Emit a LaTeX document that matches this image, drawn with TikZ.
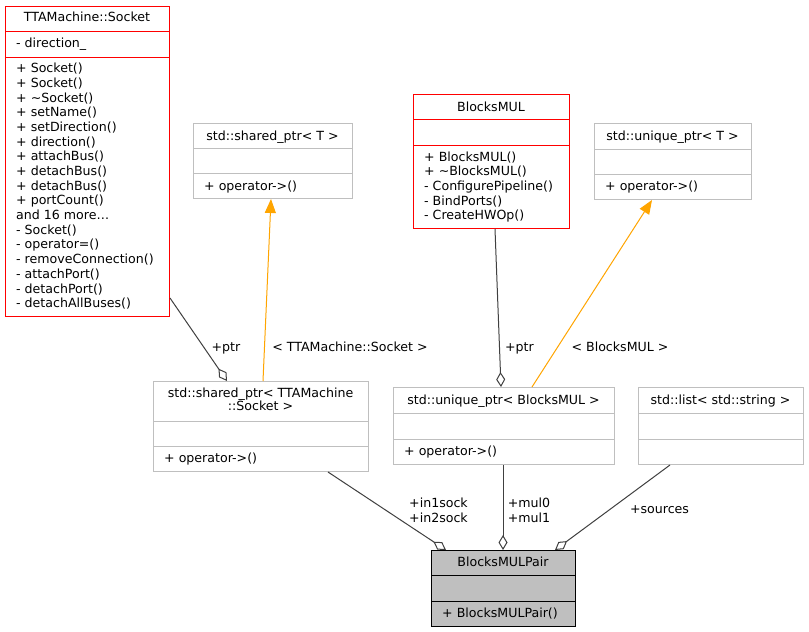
\documentclass[tikz,border=0pt]{standalone}
\usepackage{fontspec}
\setmainfont{DejaVu Sans}
\usetikzlibrary{arrows.meta,calc}
\definecolor{umlred}{HTML}{FF0000}
\definecolor{umlgray}{HTML}{BFBFBF}
\definecolor{edgegray}{HTML}{404040}
\definecolor{tmplorange}{HTML}{FFA500}
\newcommand\umlbox[8]{%
  \node[#8, minimum width=#4pt, minimum height=#5pt, anchor=north west] (#1) at (#2,#3) {};
  \draw[#7] ($(#1.north west)+(0,#6)$) -- ($(#1.north east)+(0,#6)$);
}
\begin{document}
\begin{tikzpicture}[x=1pt,y=-1pt,
  font=\fontsize{12.6}{14.7}\selectfont,
  redbox/.style={draw=umlred, line width=1pt, inner sep=0},
  graybox/.style={draw=umlgray, line width=1pt, inner sep=0},
  pairbox/.style={draw=black, fill=umlgray, line width=1pt, inner sep=0},
  redline/.style={draw=umlred, line width=1pt},
  grayline/.style={draw=umlgray, line width=1pt},
  blackline/.style={draw=black, line width=1pt},
  ttl/.style={inner sep=0, anchor=base},
  mem/.style={inner sep=0, anchor=base west},
  elbl/.style={inner sep=0, align=center},
  agg/.style={draw=edgegray, line width=1pt, -{Diamond[open, length=15pt, width=9pt]}},
  inst/.style={draw=tmplorange, line width=1pt, -{Triangle[length=14pt, width=11pt]}}
]
\fill[white] (0,0) rectangle (809,632);
\useasboundingbox (0,0) rectangle (809,632);

% TTAMachine::Socket
\umlbox{sock}{5}{6}{164}{310}{25}{redline}{redbox}
\draw[redline] ($(sock.north west)+(0,51)$) -- ($(sock.north east)+(0,51)$);
\node[ttl] (sockt) at (87,21.7) {TTAMachine::Socket};
\node[mem] (socka) at (16,47) {- direction\_};
\foreach \t [count=\i] in {{+ Socket()}, {+ Socket()}, {+ \textasciitilde Socket()}, {+ setName()}, {+ setDirection()}, {+ direction()}, {+ attachBus()}, {+ detachBus()}, {+ detachBus()}, {+ portCount()}, {and 16 more\ldots}, {- Socket()}, {- operator=()}, {- removeConnection()}, {- attachPort()}, {- detachPort()}, {- detachAllBuses()}}
  \node[mem] (sockm\i) at ({16},{72.7+14.69*(\i-1)}) {\t};

% std::shared_ptr< T >
\umlbox{sht}{193}{123}{159}{75}{25}{grayline}{graybox}
\draw[grayline] ($(sht.north west)+(0,50)$) -- ($(sht.north east)+(0,50)$);
\node[ttl] (shtt) at (272.5,140) {std::shared\_ptr< T >};
\node[mem] (shtm) at (204,190) {+ operator->()};

% BlocksMUL
\umlbox{bm}{413}{94}{156}{134}{25}{redline}{redbox}
\draw[redline] ($(bm.north west)+(0,51)$) -- ($(bm.north east)+(0,51)$);
\node[ttl] (bmt) at (491,111) {BlocksMUL};
\foreach \t [count=\i] in {{+ BlocksMUL()}, {+ \textasciitilde BlocksMUL()}, {- ConfigurePipeline()}, {- BindPorts()}, {- CreateHWOp()}}
  \node[mem] (bmm\i) at ({424},{161.3+14.6*(\i-1)}) {\t};

% std::unique_ptr< T >
\umlbox{ut}{594}{123}{157}{76}{26}{grayline}{graybox}
\draw[grayline] ($(ut.north west)+(0,51)$) -- ($(ut.north east)+(0,51)$);
\node[ttl] (utt) at (672.5,140.5) {std::unique\_ptr< T >};
\node[mem] (utm) at (605,190.5) {+ operator->()};

% std::shared_ptr< TTAMachine::Socket >
\umlbox{shs}{153}{381}{215}{90}{40}{grayline}{graybox}
\draw[grayline] ($(shs.north west)+(0,65)$) -- ($(shs.north east)+(0,65)$);
\node[ttl] (shst1) at (260.5,397.3) {std::shared\_ptr< TTAMachine};
\node[ttl] (shst2) at (260.5,410.7) {::Socket >};
\node[mem] (shsm) at (164,462) {+ operator->()};

% std::unique_ptr< BlocksMUL >
\umlbox{ubm}{393}{387}{221}{77}{26}{grayline}{graybox}
\draw[grayline] ($(ubm.north west)+(0,52)$) -- ($(ubm.north east)+(0,52)$);
\node[ttl] (ubmt) at (503.5,404.5) {std::unique\_ptr< BlocksMUL >};
\node[mem] (ubmm) at (404,455.5) {+ operator->()};

% std::list< std::string >
\umlbox{lst}{638}{387}{165}{77}{26}{grayline}{graybox}
\draw[grayline] ($(lst.north west)+(0,52)$) -- ($(lst.north east)+(0,52)$);
\node[ttl] (lstt) at (720.5,404.5) {std::list< std::string >};

% BlocksMULPair
\umlbox{pair}{431}{550}{144}{76}{25}{blackline}{pairbox}
\draw[blackline] ($(pair.north west)+(0,51)$) -- ($(pair.north east)+(0,51)$);
\node[ttl] (pairt) at (503,566.5) {BlocksMULPair};
\node[mem] (pairm) at (442,617) {+ BlocksMULPair()};

% connectors
\draw[agg] ($(sock.north east)+(0,292)$) -- ($(shs.north west)+(74,0)$);
\draw[inst] ($(shs.north west)+(110,0)$) -- ($(sht.south west)+(78,0)$);
\draw[agg] ($(bm.south west)+(82,0)$) -- ($(ubm.north west)+(108,0)$);
\draw[inst] ($(ubm.north west)+(139,0)$) -- ($(ut.south west)+(58,0)$);
\draw[agg] ($(shs.south west)+(175,0)$) -- ($(pair.north west)+(15,0)$);
\draw[agg] ($(ubm.south west)+(110,0)$) -- ($(pair.north west)+(72,0)$);
\draw[agg] ($(lst.south west)+(32,0)$) -- ($(pair.north west)+(124,0)$);

% connector labels
\node[ttl] (l1) at (226,351) {+ptr};
\node[ttl] (l2) at (350,351) {< TTAMachine::Socket >};
\node[ttl] (l3) at (519.5,351) {+ptr};
\node[ttl] (l4) at (620,351) {< BlocksMUL >};
\node[elbl] (l5) at (438.5,510) {+in1sock\\+in2sock};
\node[elbl] (l6) at (529,510) {+mul0\\+mul1};
\node[ttl] (l7) at (659.5,513.5) {+sources};
\end{tikzpicture}
\end{document}
